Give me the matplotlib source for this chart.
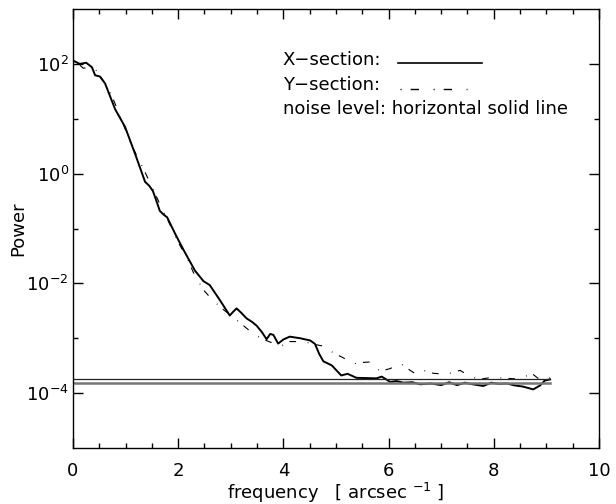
import matplotlib
matplotlib.use("Agg")
import matplotlib.pyplot as plt
from matplotlib.ticker import FixedLocator, NullFormatter

plt.rcParams['font.family'] = ['DejaVu Sans']
plt.rcParams['mathtext.default'] = 'regular'

# X-section (solid)
x_sec_f = [0.00, 0.13, 0.25, 0.36, 0.42, 0.51, 0.61, 0.80, 0.99, 1.18, 1.37, 1.45, 1.52,
           1.58, 1.65, 1.72, 1.79, 1.94, 2.10, 2.32, 2.48, 2.60, 2.79, 2.98, 3.04, 3.11, 3.20, 3.30, 3.40, 3.49,
           3.59, 3.68, 3.75, 3.81, 3.90, 4.00, 4.12, 4.32, 4.51, 4.60, 4.68, 4.76, 4.92, 5.10, 5.22,
           5.39, 5.77, 5.87, 6.03, 6.15, 6.28, 6.45, 6.60, 6.80, 7.00, 7.15, 7.30,
           7.45, 7.60, 7.80, 7.95, 8.10, 8.25, 8.40, 8.55, 8.75, 8.88, 8.97, 9.07]
x_sec_p = [115, 100, 105, 87, 62, 59, 44, 15, 7.1, 2.3, 0.71, 0.60, 0.48,
           0.33, 0.21, 0.18, 0.16, 0.081, 0.041, 0.017, 0.011, 0.0093, 0.0050, 0.0026, 0.0030, 0.0035, 0.0029, 0.0023, 0.0020, 0.0017,
           0.0013, 9.6e-4, 1.2e-3, 1.15e-3, 8.0e-4, 9.5e-4, 1.07e-3, 1.0e-3, 9.1e-4, 7.9e-4, 5.2e-4, 3.8e-4, 3.2e-4, 2.1e-4, 2.25e-4,
           1.9e-4, 1.86e-4, 2.0e-4, 1.6e-4, 1.66e-4, 1.55e-4, 1.58e-4, 1.45e-4, 1.5e-4, 1.4e-4, 1.58e-4, 1.4e-4,
           1.55e-4, 1.45e-4, 1.35e-4, 1.55e-4, 1.48e-4, 1.5e-4, 1.38e-4, 1.32e-4, 1.17e-4, 1.38e-4, 1.7e-4, 1.78e-4]

# Y-section (dash-dot)
y_sec_f = [0.00, 0.10, 0.20, 0.30, 0.42, 0.50, 0.60, 0.74, 0.89, 1.10, 1.31, 1.50,
           1.65, 1.84, 2.00, 2.16, 2.30, 2.48, 2.65, 2.83, 3.05, 3.24, 3.43, 3.62,
           3.81, 3.94, 4.12, 4.38, 4.63, 4.79, 4.95, 5.14, 5.33, 5.46, 5.65, 5.84,
           6.03, 6.22, 6.41, 6.53, 6.66, 6.85, 7.10, 7.36, 7.55, 7.74, 7.99, 8.25,
           8.50, 8.72, 8.88, 9.07]
y_sec_p = [112, 100, 83, 89, 81, 63, 46, 26, 11.5, 3.5, 1.4, 0.58,
           0.28, 0.12, 0.056, 0.030, 0.015, 0.0076, 0.0050, 0.0035, 0.0024, 0.0017, 0.0012, 9.5e-4,
           8.1e-4, 7.1e-4, 8.7e-4, 8.7e-4, 7.6e-4, 7.1e-4, 5.4e-4, 4.4e-4, 3.4e-4, 3.6e-4, 3.7e-4, 2.5e-4,
           2.8e-4, 3.5e-4, 2.6e-4, 2.2e-4, 2.6e-4, 2.3e-4, 2.2e-4, 2.6e-4, 2.0e-4, 1.8e-4, 1.95e-4, 1.86e-4,
           1.8e-4, 2.3e-4, 1.74e-4, 1.9e-4]

# noise levels
noise_f = [0.0, 9.07]
noise_x = 1.82e-4
noise_y = 1.52e-4

dashdot = (0, (0.8, 6.5, 6.0, 10.5))

fig = plt.figure(figsize=(6.16, 5.04), dpi=100)
ax = fig.add_axes([0.1185, 0.1111, 0.8539, 0.8710])

ax.plot(x_sec_f, x_sec_p, color='black', lw=1.4, solid_joinstyle='round')
ax.plot(y_sec_f, y_sec_p, color='black', lw=0.8, linestyle=dashdot)
ax.plot(noise_f, [noise_x, noise_x], color='#222222', lw=0.9)
ax.plot(noise_f, [noise_y, noise_y], color='#777777', lw=1.8)

ax.set_yscale('log')
ax.set_xlim(0, 10)
ax.set_ylim(1e-5, 1e3)

ax.xaxis.set_major_locator(FixedLocator([0, 2, 4, 6, 8, 10]))
ax.xaxis.set_minor_locator(FixedLocator([0.5, 1, 1.5, 2.5, 3, 3.5, 4.5, 5, 5.5,
                                         6.5, 7, 7.5, 8.5, 9, 9.5]))
ax.yaxis.set_major_locator(FixedLocator([1e-4, 1e-2, 1e0, 1e2]))
ax.yaxis.set_minor_locator(FixedLocator([1e-3, 1e-1, 1e1]))
ax.yaxis.set_minor_formatter(NullFormatter())
ax.set_yticklabels([r'$10^{-4}$', r'$10^{-2}$', r'$10^{0}$', r'$10^{2}$'])
ax.set_xticklabels(['0', '2', '4', '6', '8', '10'])

fs = 13
ax.tick_params(which='both', direction='in', top=True, right=True, width=1.0,
               labelsize=fs, color='black')
ax.tick_params(which='major', length=7)
ax.tick_params(which='minor', length=3.5)
ax.tick_params(axis='x', which='major', pad=10)
ax.tick_params(axis='y', which='major', pad=3)
for s in ax.spines.values():
    s.set_linewidth(1.0)

ax.set_xlabel(r'frequency   [ arcsec $^{-1}$ ]', fontsize=fs, labelpad=1)
ax.set_ylabel('Power', fontsize=fs, va='center')
ax.yaxis.set_label_coords(-0.104, 0.5)

# legend (text annotations)
ax.text(0.399, 0.884, 'X\u2212section:', transform=ax.transAxes, fontsize=fs, va='center', ha='left')
ax.plot([0.618, 0.778], [0.876, 0.876], transform=ax.transAxes, color='black', lw=1.2)
ax.text(0.399, 0.827, 'Y\u2212section:', transform=ax.transAxes, fontsize=fs, va='center', ha='left')
ax.plot([0.621, 0.750], [0.818, 0.818], transform=ax.transAxes, color='black', lw=1.0,
        linestyle=dashdot)
ax.text(0.399, 0.772, 'noise level: horizontal solid line', transform=ax.transAxes,
        fontsize=fs, va='center', ha='left')

fig.savefig('out.png', dpi=100)
